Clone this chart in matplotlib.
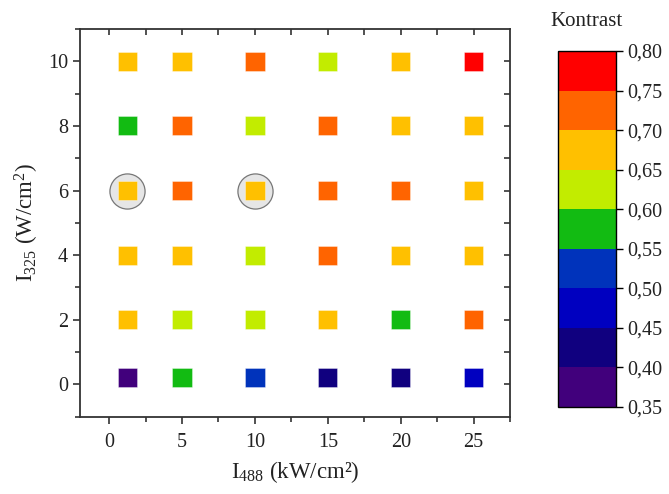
import numpy as np
import matplotlib
matplotlib.use('Agg')
import matplotlib.pyplot as plt
from matplotlib.colors import ListedColormap, BoundaryNorm
from matplotlib.cm import ScalarMappable
from matplotlib.ticker import MultipleLocator

# intensities
x_vals = [1.25, 5, 10, 15, 20, 25]      # I_488 (kW/cm2)
y_vals = [0.2, 2, 4, 6, 8, 10]          # I_325 (W/cm2)

# contrast, one row per y value (bottom to top)
contrast = [
	[0.375, 0.575, 0.525, 0.425, 0.425, 0.475],   # y = 0.2
	[0.675, 0.625, 0.625, 0.675, 0.575, 0.725],   # y = 2
	[0.675, 0.675, 0.625, 0.725, 0.675, 0.675],   # y = 4
	[0.675, 0.725, 0.675, 0.725, 0.725, 0.675],   # y = 6
	[0.575, 0.725, 0.625, 0.725, 0.675, 0.675],   # y = 8
	[0.675, 0.675, 0.725, 0.625, 0.675, 0.775],   # y = 10
]

# highlighted points
hl_x = [1.25, 10]
hl_y = [6, 6]

levels = [0.35, 0.40, 0.45, 0.50, 0.55, 0.60, 0.65, 0.70, 0.75, 0.80]
level_colors = ['#41007c', '#10007f', '#0000c0', '#0033bb', '#12bb12',
				'#c2ec00', '#ffc000', '#ff6400', '#ff0000']

plt.rcParams['font.family'] = ['Liberation Serif', 'DejaVu Serif']
plt.rcParams['mathtext.fontset'] = 'custom'
plt.rcParams['mathtext.rm'] = 'Liberation Serif'
plt.rcParams['mathtext.it'] = 'Liberation Serif:italic'

cmap = ListedColormap(level_colors)
norm = BoundaryNorm(levels, cmap.N)

X, Y = np.meshgrid(x_vals, y_vals)
C = np.array(contrast)

fig = plt.figure(figsize=(6.69, 4.94), dpi=100)
ax = fig.add_axes([0.1196, 0.1565, 0.6428, 0.7848])

ax.scatter(hl_x, hl_y, s=640, marker='o', facecolor='#e6e6e6',
		   edgecolor='#777777', linewidth=0.9, zorder=2)
ax.scatter(X.ravel(), Y.ravel(), c=C.ravel(), cmap=cmap, norm=norm,
		   marker='s', s=190, edgecolors='#ffffff80', linewidths=0.5, zorder=3)

ax.set_xlim(-2, 27.5)
ax.set_ylim(-1, 11)
ax.xaxis.set_major_locator(MultipleLocator(5))
ax.xaxis.set_minor_locator(MultipleLocator(2.5))
ax.yaxis.set_major_locator(MultipleLocator(2))
ax.yaxis.set_minor_locator(MultipleLocator(1))

for sp in ax.spines.values():
	sp.set_linewidth(1.3)
	sp.set_color('#333333')

ax.tick_params(which='both', direction='out', width=1.2, color='#333333',
			   labelsize=14.5, labelcolor='#222222')
ax.tick_params(which='major', length=5)
ax.tick_params(which='minor', length=3.5)
ax.tick_params(axis='x', pad=7)

# inward ticks on the top and right side
top = ax.secondary_xaxis('top')
top.set_xticks(np.arange(0, 27.5, 2.5))
top.xaxis.set_minor_locator(plt.NullLocator())
top.tick_params(which='both', direction='in', length=4, width=1.2, color='#333333', labeltop=False)
top.spines['top'].set_visible(False)
right = ax.secondary_yaxis('right')
right.set_yticks(np.arange(0, 11, 1))
right.yaxis.set_minor_locator(plt.NullLocator())
right.tick_params(which='both', direction='in', length=4, width=1.2, color='#333333', labelright=False)
right.spines['right'].set_visible(False)

ax.set_xlabel(r'I$_{488}$ (kW/cm²)', fontsize=16.5, color='#222222', labelpad=5)
ax.set_ylabel(r'I$_{325}$ (W/cm$^2$)', fontsize=16.5, color='#222222', labelpad=5)

# colorbar
cax = fig.add_axes([0.8336, 0.1761, 0.0867, 0.7206])
sm = ScalarMappable(norm=norm, cmap=cmap)
cb = fig.colorbar(sm, cax=cax, ticks=levels)
cb.ax.set_yticklabels([f'{v:.2f}'.replace('.', ',') for v in levels])
cb.outline.set_linewidth(1.0)
cb.ax.tick_params(length=5, width=1.0, labelsize=14.5, labelcolor='#222222')
cb.ax.set_title('Kontrast', fontsize=15, pad=18, color='#222222')

fig.savefig('out.png', dpi=100)
